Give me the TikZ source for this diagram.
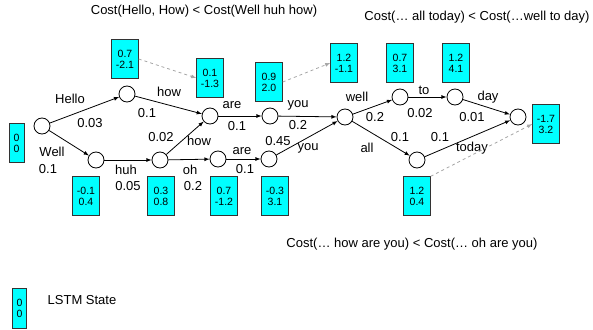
\documentclass[tikz,border=0pt]{standalone}
\usepackage{fontspec}
\setmainfont{Liberation Sans}
\definecolor{lstmcyan}{RGB}{0,255,255}
\begin{document}
\begin{tikzpicture}[>=latex, x=1pt, y=-1pt,
    state/.style={circle, draw, thick, minimum size=16pt, inner sep=0pt},
    lstm/.style={draw=black!80, fill=lstmcyan, minimum width=27pt, minimum height=39pt,
        inner sep=1pt, align=center, font=\fontsize{10.5}{11}\selectfont},
    thin lstm/.style={lstm, minimum width=15pt},
    lbl/.style={font=\fontsize{13}{14}\selectfont, inner sep=0pt},
    hint/.style={->, dashed, gray!70, thick}]
\useasboundingbox (0,0) rectangle (593,329);
% search nodes
\node[state] (s0) at (42,126) {};
\node[state] (hello) at (127,94) {};
\node[state] (well1) at (96,160) {};
\node[state] (huh) at (160,160) {};
\node[state] (how) at (210,116) {};
\node[state] (are1) at (270,116) {};
\node[state] (oh) at (218,159) {};
\node[state] (are2) at (269,159) {};
\node[state] (you) at (345,117) {};
\node[state] (well2) at (400,97) {};
\node[state] (to) at (455,97) {};
\node[state] (all) at (417,160) {};
\node[state] (end) at (518,117) {};

% edges
\draw[->, thick] (s0) -- (hello);
\draw[->, thick] (s0) -- (well1);
\draw[->, thick] (hello) -- (how);
\draw[->, thick] (well1) -- (huh);
\draw[->, thick] (huh) -- (how);
\draw[->, thick] (huh) -- (oh);
\draw[->, thick] (how) -- (are1);
\draw[->, thick] (oh) -- (are2);
\draw[->, thick] (are1) -- (you);
\draw[->, thick] (are2) -- (you);
\draw[->, thick] (you) -- (well2);
\draw[->, thick] (well2) -- (to);
\draw[->, thick] (to) -- (end);
\draw[->, thick] (you) -- (all);
\draw[->, thick] (all) -- (end);

% words and costs
\node[lbl] (wHello) at (70,99) {Hello};
\node[lbl] (cHello) at (90,123) {0.03};
\node[lbl] (wWell) at (52,152) {Well};
\node[lbl] (cWell) at (48,169) {0.1};
\node[lbl] (wHow) at (169,92) {how};
\node[lbl] (cHow) at (147,113) {0.1};
\node[lbl] (wHuh) at (126,170) {huh};
\node[lbl] (cHuh) at (128,186) {0.05};
\node[lbl] (cHow2) at (161,137) {0.02};
\node[lbl] (wHow2) at (199,141) {how};
\node[lbl] (wOh) at (190,170) {oh};
\node[lbl] (cOh) at (193,186) {0.2};
\node[lbl] (wAre) at (232,105) {are};
\node[lbl] (cAre) at (237,126) {0.1};
\node[lbl] (wAre2) at (242,151) {are};
\node[lbl] (cAre2) at (245,169) {0.1};
\node[lbl] (wYou) at (298,105) {you};
\node[lbl] (cYou) at (298,125) {0.2};
\node[lbl] (cYou2) at (278,141) {0.45};
\node[lbl] (wYou2) at (308,148) {you};
\node[lbl] (wWell2) at (357,97) {well};
\node[lbl] (cWell2) at (375,117) {0.2};
\node[lbl] (wTo) at (424,90) {to};
\node[lbl] (cTo) at (420,113) {0.02};
\node[lbl] (wDay) at (488,97) {day};
\node[lbl] (cDay) at (472,117) {0.01};
\node[lbl] (wAll) at (367,148) {all};
\node[lbl] (cAll) at (400,137) {0.1};
\node[lbl] (cToday) at (440,137) {0.1};
\node[lbl] (wToday) at (472,148) {today};

% lstm states
\node[thin lstm] (h0) at (16.5,143) {0\\0};
\node[lstm] (hHello) at (125,59) {0.7\\-2.1};
\node[lstm] (hHow) at (210,78) {0.1\\-1.3};
\node[lstm] (hAre) at (269,82) {0.9\\2.0};
\node[lstm] (hYou) at (344,63) {1.2\\-1.1};
\node[lstm] (hWell2) at (400,63) {0.7\\3.1};
\node[lstm] (hTo) at (456,63) {1.2\\4.1};
\node[lstm] (hEnd) at (546,124) {-1.7\\3.2};
\node[lstm] (hAll) at (417,196) {1.2\\0.4};
\node[lstm] (hWell1) at (86,196) {-0.1\\0.4};
\node[lstm] (hHuh) at (161,196) {0.3\\0.8};
\node[lstm] (hOh) at (224,196) {0.7\\-1.2};
\node[lstm] (hAre2) at (275,196) {-0.3\\3.1};

% state carried forward
\draw[hint] (hHello.east) -- (hHow.west);
\draw[hint] (hAre.east) -- (hYou.west);
\draw[hint] (hAll.north east) -- (hEnd.west);

% cost comparisons
\node[lbl] (cmp1) at (204,11) {Cost(Hello, How) < Cost(Well huh how)};
\node[lbl] (cmp2) at (477,17) {Cost(… all today) < Cost(…well to day)};
\node[lbl] (cmp3) at (412,244) {Cost(… how are you) < Cost(… oh are you)};

% legend
\node[thin lstm, minimum width=14pt, minimum height=40pt] (key) at (19.5,308) {0\\0};
\node[lbl] (keyText) at (82,300) {LSTM State};
\end{tikzpicture}
\end{document}
